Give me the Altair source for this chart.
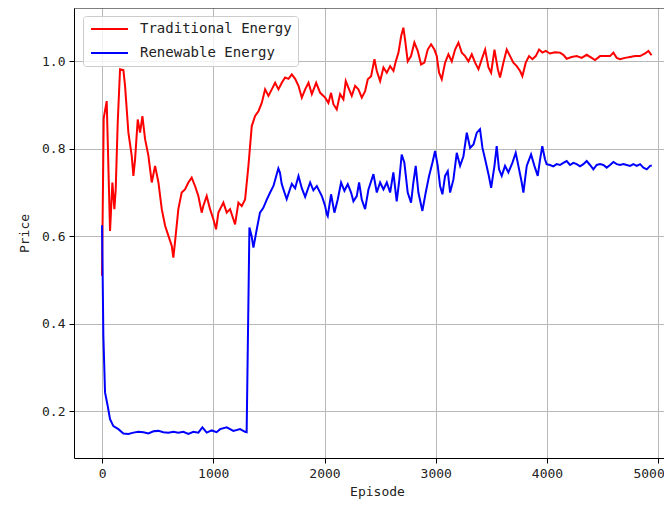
import altair as alt
import pandas as pd

# ---- data ----
series_names = ["Traditional Energy", "Renewable Energy"]
series_colors = ["#ff0000", "#0000ff"]
x_ticks = [0, 1000, 2000, 3000, 4000, 5000]
y_ticks = [0.2, 0.4, 0.6, 0.8, 1.0]

red_ep = [0, 15, 42, 72, 93, 111, 123, 141, 162, 192, 207, 237, 267, 282, 297, 321, 342, 363, 387, 417,
          447, 477, 507, 537, 567, 597, 627, 641, 657, 686, 716, 746, 776, 806, 836, 866, 896, 911, 941, 971,
          1001, 1025, 1046, 1091, 1121, 1151, 1181, 1196, 1226, 1256, 1286, 1316, 1346, 1376, 1406, 1436,
          1466, 1496, 1526, 1556, 1586, 1616, 1646, 1676, 1706, 1736, 1766, 1796, 1826, 1856, 1886, 1925,
          1961, 2006, 2035, 2059, 2080, 2110, 2140, 2170, 2191, 2221, 2245, 2275, 2305, 2335, 2365, 2389,
          2419, 2449, 2470, 2500, 2530, 2560, 2590, 2620, 2641, 2665, 2689, 2709, 2724, 2748, 2778, 2808,
          2838, 2868, 2898, 2928, 2958, 2988, 3009, 3030, 3054, 3084, 3114, 3144, 3174, 3204, 3234, 3264,
          3294, 3324, 3354, 3384, 3414, 3444, 3474, 3498, 3528, 3558, 3578, 3608, 3638, 3668, 3698, 3728,
          3758, 3779, 3809, 3839, 3869, 3899, 3929, 3959, 3989, 4027, 4072, 4117, 4147, 4177, 4222, 4267,
          4312, 4357, 4402, 4432, 4477, 4522, 4567, 4597, 4627, 4657, 4702, 4747, 4792, 4837, 4882, 4912,
          4940]
red_val = [0.51, 0.87, 0.909, 0.612, 0.723, 0.662, 0.707, 0.86, 0.982, 0.98, 0.944, 0.837, 0.784, 0.738,
           0.776, 0.867, 0.837, 0.875, 0.822, 0.784, 0.723, 0.761, 0.723, 0.662, 0.624, 0.601, 0.578, 0.551,
           0.589, 0.662, 0.70, 0.707, 0.723, 0.734, 0.715, 0.692, 0.654, 0.67, 0.692, 0.662,
           0.639, 0.616, 0.654, 0.677, 0.654, 0.662, 0.639, 0.627, 0.677, 0.669, 0.684, 0.761, 0.852, 0.875,
           0.886, 0.905, 0.936, 0.921, 0.936, 0.951, 0.936, 0.951, 0.963, 0.96, 0.97, 0.96, 0.944, 0.917,
           0.936, 0.951, 0.925, 0.951, 0.928, 0.917, 0.905, 0.928, 0.902, 0.89, 0.925, 0.913, 0.955, 0.936,
           0.921, 0.944, 0.936, 0.917, 0.932, 0.959, 0.966, 1.005, 0.978, 0.955, 0.986, 0.974, 0.989, 0.978,
           1.0, 1.02, 1.058, 1.077, 1.05, 1.0, 1.012, 1.043, 1.024, 0.993, 0.997, 1.027, 1.039, 1.027, 1.012,
           0.974, 0.959, 0.997, 1.016, 1.0, 1.027, 1.043, 1.02, 1.012, 1.0, 1.016, 0.997, 0.982, 1.005, 1.027,
           0.986, 0.974, 1.027, 0.982, 0.963, 0.997, 1.027, 1.012, 0.997, 0.989, 0.978, 0.966, 0.997, 1.012,
           1.005, 1.012, 1.027, 1.02, 1.024, 1.018, 1.021, 1.02, 1.015, 1.006, 1.01, 1.012, 1.008, 1.015,
           1.008, 1.003, 1.012, 1.012, 1.012, 1.02, 1.008, 1.005, 1.008, 1.01, 1.012, 1.012, 1.018, 1.024,
           1.014]

blue_ep = [0, 5, 12, 27, 51, 72, 102, 147, 192, 237, 282, 327, 372, 417, 462, 507, 552, 597, 641, 686,
           731, 776, 821, 866, 902, 941, 986, 1030, 1061, 1121, 1181, 1241, 1286, 1300, 1325, 1345, 1361,
           1391, 1420, 1450, 1481, 1511, 1541, 1585, 1600, 1615, 1640, 1660, 1706, 1736, 1766, 1796, 1826,
           1871, 1900, 1931, 1976, 2005, 2021, 2029, 2059, 2089, 2119, 2149, 2179, 2209, 2239, 2260, 2290,
           2311, 2335, 2365, 2395, 2440, 2470, 2500, 2530, 2560, 2590, 2619, 2649, 2670, 2694, 2718, 2748,
           2778, 2799, 2820, 2844, 2880, 2910, 2940, 2970, 2994, 3018, 3039, 3060, 3084, 3108, 3129, 3159,
           3189, 3219, 3249, 3279, 3309, 3339, 3369, 3398, 3420, 3444, 3474, 3498, 3528, 3548, 3569, 3593,
           3623, 3653, 3689, 3719, 3743, 3773, 3788, 3818, 3857, 3887, 3917, 3938, 3958, 3982, 3997, 4027,
           4057, 4087, 4117, 4147, 4177, 4207, 4237, 4267, 4297, 4327, 4357, 4387, 4417, 4447, 4477, 4507,
           4537, 4567, 4597, 4627, 4657, 4687, 4717, 4747, 4777, 4807, 4837, 4867, 4897, 4927, 4942]
blue_val = [0.625, 0.525, 0.372, 0.243, 0.212, 0.182, 0.166, 0.159, 0.149, 0.148, 0.151, 0.153, 0.152,
            0.149, 0.154, 0.155, 0.152, 0.151, 0.153, 0.151, 0.153, 0.148, 0.153, 0.151, 0.163, 0.151,
            0.156, 0.152, 0.159, 0.163, 0.155, 0.159, 0.153, 0.152, 0.62, 0.60, 0.574, 0.616, 0.654, 0.665,
            0.684, 0.70, 0.715, 0.755, 0.745, 0.72, 0.70, 0.685, 0.72, 0.71, 0.738, 0.71, 0.69, 0.723, 0.705,
            0.715, 0.692, 0.67, 0.65, 0.646, 0.696, 0.654, 0.684, 0.723, 0.704, 0.719, 0.70, 0.68, 0.692,
            0.723, 0.684, 0.662, 0.707, 0.742, 0.70, 0.723, 0.707, 0.723, 0.70, 0.746, 0.68, 0.723, 0.787,
            0.768, 0.70, 0.677, 0.723, 0.761, 0.70, 0.658, 0.70, 0.738, 0.768, 0.795, 0.761, 0.715, 0.696,
            0.738, 0.749, 0.70, 0.73, 0.791, 0.761, 0.783, 0.837, 0.802, 0.81, 0.837, 0.845, 0.802, 0.776,
            0.742, 0.711, 0.761, 0.806, 0.753, 0.738, 0.761, 0.746, 0.768, 0.791, 0.761, 0.723, 0.70, 0.761,
            0.787, 0.761, 0.738, 0.776, 0.806, 0.776, 0.765, 0.763, 0.76, 0.765, 0.763, 0.768, 0.772, 0.763,
            0.768, 0.765, 0.76, 0.765, 0.772, 0.763, 0.753, 0.763, 0.765, 0.763, 0.757, 0.763, 0.77, 0.765,
            0.763, 0.765, 0.763, 0.761, 0.765, 0.761, 0.765, 0.757, 0.753, 0.761, 0.762]

df = pd.concat([
    pd.DataFrame({"Episode": red_ep, "Price": red_val, "Series": series_names[0]}),
    pd.DataFrame({"Episode": blue_ep, "Price": blue_val, "Series": series_names[1]}),
], ignore_index=True)

FONT = "DejaVu Sans Mono"
W, H = 590, 450

x_scale = alt.Scale(domain=[-252, 5052], nice=False, zero=False)
y_scale = alt.Scale(domain=[0.093, 1.122], nice=False, zero=False)

lines = alt.Chart(df).mark_line(strokeWidth=2, clip=True).encode(
    x=alt.X("Episode:Q", scale=x_scale,
            axis=alt.Axis(values=x_ticks, format="d", title="Episode",
                          titleX=303, titleAnchor="middle", titlePadding=5,
                          labelPadding=4, tickSize=5, labelFlush=8, labelFlushOffset=6)),
    y=alt.Y("Price:Q", scale=y_scale,
            axis=alt.Axis(values=y_ticks, format=".1f", title="Price",
                          titlePadding=10, labelPadding=4, tickSize=5)),
    color=alt.Color("Series:N",
                    scale=alt.Scale(domain=series_names, range=series_colors),
                    sort=series_names,
                    legend=alt.Legend(title=None, orient="none", legendX=9, legendY=8,
                                      symbolType="M-1,0H6.4", symbolSize=100, symbolStrokeWidth=2,
                                      labelFont=FONT, labelFontSize=14, labelColor="#222222",
                                      labelOffset=37, fillColor="rgba(255,255,255,0.8)",
                                      strokeColor="#cccccc", cornerRadius=3, padding=6,
                                      rowPadding=10)),
)

top_spine = alt.Chart(pd.DataFrame({"k": [0]})).mark_rule(color="black", strokeWidth=1).encode(
    x=alt.value(0), x2=alt.value(W), y=alt.value(0)
)

chart = alt.layer(lines, top_spine).properties(
    width=W, height=H,
    autosize=alt.AutoSizeParams(type="none"),
    padding={"left": 66, "top": 0, "right": 0, "bottom": 42},
).configure_view(stroke=None).configure_axis(
    labelFont=FONT, labelFontSize=13, labelColor="#222222",
    titleFont=FONT, titleFontSize=13, titleFontWeight="normal", titleColor="#222222",
    domainColor="black", domainWidth=1, tickColor="black", tickWidth=1,
    gridColor="#b8b8b8", gridWidth=1, grid=True,
)

chart.save("out.html", embed_options={"renderer": "svg", "actions": False})
